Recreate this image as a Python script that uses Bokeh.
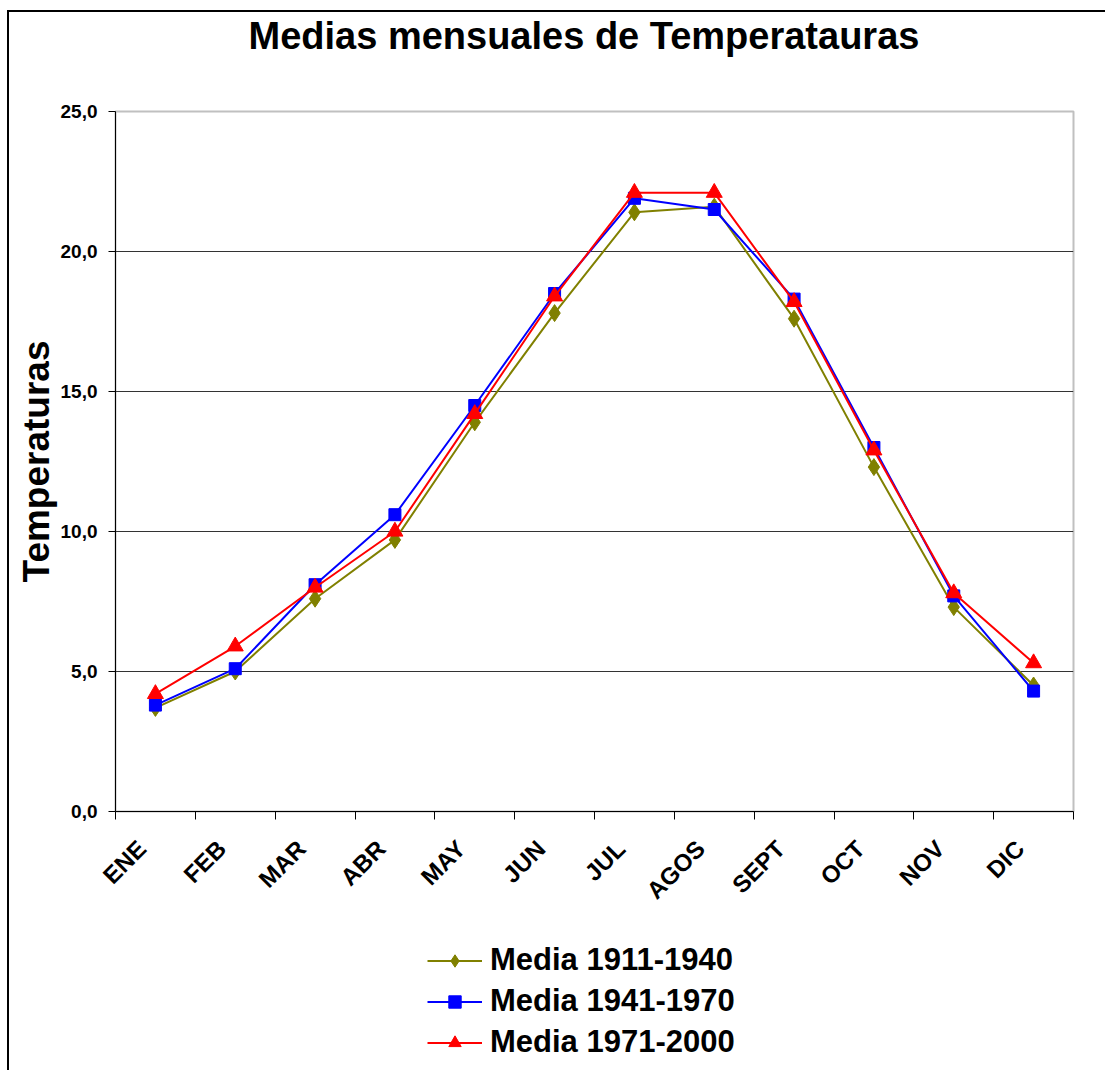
import math
from bokeh.plotting import figure
from bokeh.layouts import column
from bokeh.models import FixedTicker, Legend, LegendItem, Range1d, Title
from bokeh.embed import file_html
from bokeh.resources import INLINE

months = ["ENE", "FEB", "MAR", "ABR", "MAY", "JUN", "JUL", "AGOS", "SEPT", "OCT", "NOV", "DIC"]
media_1911_1940 = [3.7, 5.0, 7.6, 9.7, 13.9, 17.8, 21.4, 21.6, 17.6, 12.3, 7.3, 4.5]
media_1941_1970 = [3.8, 5.1, 8.1, 10.6, 14.5, 18.5, 21.9, 21.5, 18.3, 13.0, 7.7, 4.3]
media_1971_2000 = [4.2, 5.9, 8.0, 10.0, 14.2, 18.4, 22.1, 22.1, 18.2, 12.9, 7.8, 5.3]
series_names = ["Media 1911-1940", "Media 1941-1970", "Media 1971-2000"]
y_ticks = [0, 5, 10, 15, 20, 25]
y_tick_labels = ["0,0", "5,0", "10,0", "15,0", "20,0", "25,0"]

FONT = "Liberation Sans"
W = 1096
H0 = 87
H1 = 818
H2 = 153

x_centers = [i + 0.5 for i in range(len(months))]
x_label_pos = [c - 0.17 for c in x_centers]
x_bounds = list(range(len(months) + 1))

# ---- title strip ----
t0 = figure(width=W, height=H0, output_backend="svg", toolbar_location=None,
            x_range=Range1d(0, 1), y_range=Range1d(0, 1),
            x_axis_type=None, y_axis_type=None, min_border=0)
t0.outline_line_color = None
t0.grid.grid_line_color = None
t0.border_fill_color = "white"
t0.background_fill_color = "white"
t0.add_layout(Title(text="Medias mensuales de Temperatauras", align="left", offset=133,
                    text_font=FONT, text_font_size="38px", text_font_style="bold",
                    text_color="black", standoff=0), "above")

# ---- main chart ----
p = figure(width=W, height=H1, output_backend="svg", toolbar_location=None,
           x_range=Range1d(0, len(months)), y_range=Range1d(0, 25),
           min_border_left=106, min_border_right=32, min_border_top=12, min_border_bottom=H1 - 712)
p.background_fill_color = "white"
p.border_fill_color = "white"
p.outline_line_color = "#C0C0C0"
p.outline_line_width = 2

p.xaxis.ticker = FixedTicker(ticks=x_label_pos, minor_ticks=x_bounds)
p.xaxis.major_label_overrides = {c: m for c, m in zip(x_label_pos, months)}
p.xaxis.major_label_orientation = math.pi / 4
p.xaxis.major_tick_out = 0
p.xaxis.major_tick_in = 0
p.xaxis.minor_tick_out = 8
p.xaxis.minor_tick_in = 0
p.xaxis.minor_tick_line_color = "black"
p.xaxis.axis_line_color = "black"
p.xaxis.major_label_text_font = FONT
p.xaxis.major_label_text_font_size = "24px"
p.xaxis.major_label_text_font_style = "bold"
p.xaxis.major_label_text_color = "black"
p.xaxis.major_label_standoff = 25

p.yaxis.ticker = FixedTicker(ticks=y_ticks, minor_ticks=[])
p.yaxis.major_label_overrides = {v: s for v, s in zip(y_ticks, y_tick_labels)}
p.yaxis.major_tick_out = 7
p.yaxis.major_tick_in = 0
p.yaxis.major_tick_line_color = "black"
p.yaxis.axis_line_color = "black"
p.yaxis.major_label_text_font = FONT
p.yaxis.major_label_text_font_size = "19px"
p.yaxis.major_label_text_font_style = "bold"
p.yaxis.major_label_text_color = "black"
p.yaxis.major_label_standoff = 11
p.yaxis.axis_label = "Temperaturas"
p.yaxis.axis_label_text_font = FONT
p.yaxis.axis_label_text_font_size = "37px"
p.yaxis.axis_label_text_font_style = "bold"
p.yaxis.axis_label_text_color = "black"
p.yaxis.axis_label_standoff = 1

p.xgrid.grid_line_color = None
p.ygrid.ticker = FixedTicker(ticks=[5, 10, 15, 20])
p.ygrid.grid_line_color = "#333333"
p.ygrid.grid_line_width = 1

colors = ["#808000", "#0000FF", "#FF0000"]
markers = ["diamond", "square", "triangle"]
sizes = [17, 12, 16]
data = [media_1911_1940, media_1941_1970, media_1971_2000]

for vals, col, mk, sz in zip(data, colors, markers, sizes):
    p.line(x_centers, vals, line_color=col, line_width=2)
    p.scatter(x_centers, vals, marker=mk, size=sz, fill_color=col, line_color=col)

# ---- legend strip ----
q = figure(width=W, height=H2, output_backend="svg", toolbar_location=None,
           x_range=Range1d(-2, -1), y_range=Range1d(-2, -1),
           x_axis_type=None, y_axis_type=None, min_border=0)
q.outline_line_color = None
q.grid.grid_line_color = None
q.background_fill_color = "white"
q.border_fill_color = "white"

items = []
for name, vals, col, mk, sz in zip(series_names, data, colors, markers, sizes):
    ln = q.line(x_centers, vals, line_color=col, line_width=2)
    sc = q.scatter(x_centers, vals, marker=mk, size=sz - 3, fill_color=col, line_color=col)
    items.append(LegendItem(label=name, renderers=[ln, sc]))

legend = Legend(items=items, location=(312, 10), orientation="vertical",
                label_text_font=FONT, label_text_font_size="31px",
                label_text_font_style="bold", label_text_color="black",
                glyph_width=55, glyph_height=31, spacing=5, label_standoff=8,
                border_line_color=None, background_fill_alpha=0,
                margin=0, padding=0)
q.add_layout(legend, "center")

layout = column(t0, p, q, spacing=0,
                styles={"margin-left": "7px", "margin-top": "10px",
                        "border-left": "2px solid black", "border-top": "2px solid black"})

open("out.html", "w").write(file_html(layout, INLINE))
